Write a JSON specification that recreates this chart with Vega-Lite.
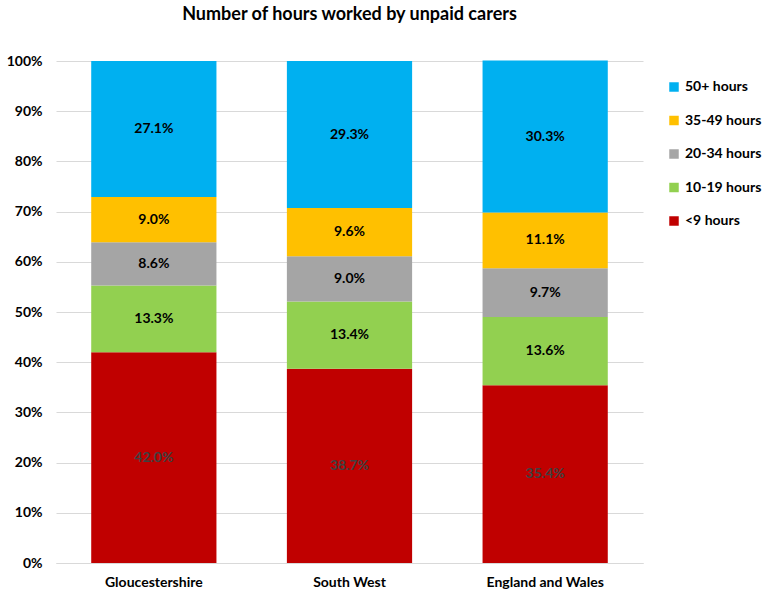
{
  "$schema": "https://vega.github.io/schema/vega-lite/v6.json",
  "width": 587,
  "height": 502,
  "autosize": {"type": "none"},
  "padding": {"left": 56, "top": 61, "right": 119, "bottom": 31},
  "background": "white",
  "title": {"text": "Number of hours worked by unpaid carers", "anchor": "middle", "fontSize": 18, "font": "Lato", "fontWeight": "bold", "color": "#000000", "offset": 30},
  "config": {"view": {"stroke": null}, "font": "Lato"},
  "data": {"values": [
    {"area": "Gloucestershire", "hours": "<9 hours", "ord": 1, "pct": 42.0},
    {"area": "Gloucestershire", "hours": "10-19 hours", "ord": 2, "pct": 13.3},
    {"area": "Gloucestershire", "hours": "20-34 hours", "ord": 3, "pct": 8.6},
    {"area": "Gloucestershire", "hours": "35-49 hours", "ord": 4, "pct": 9.0},
    {"area": "Gloucestershire", "hours": "50+ hours", "ord": 5, "pct": 27.1},
    {"area": "South West", "hours": "<9 hours", "ord": 1, "pct": 38.7},
    {"area": "South West", "hours": "10-19 hours", "ord": 2, "pct": 13.4},
    {"area": "South West", "hours": "20-34 hours", "ord": 3, "pct": 9.0},
    {"area": "South West", "hours": "35-49 hours", "ord": 4, "pct": 9.6},
    {"area": "South West", "hours": "50+ hours", "ord": 5, "pct": 29.3},
    {"area": "England and Wales", "hours": "<9 hours", "ord": 1, "pct": 35.4},
    {"area": "England and Wales", "hours": "10-19 hours", "ord": 2, "pct": 13.6},
    {"area": "England and Wales", "hours": "20-34 hours", "ord": 3, "pct": 9.7},
    {"area": "England and Wales", "hours": "35-49 hours", "ord": 4, "pct": 11.1},
    {"area": "England and Wales", "hours": "50+ hours", "ord": 5, "pct": 30.3}
  ]},
  "transform": [
    {"stack": "pct", "groupby": ["area"], "sort": [{"field": "ord", "order": "ascending"}], "as": ["y0", "y1"]},
    {"calculate": "(datum.y0 + datum.y1) / 2", "as": "ymid"},
    {"calculate": "format(datum.pct, '.1f') + '%'", "as": "lbl"}
  ],
  "encoding": {
    "x": {"field": "area", "type": "nominal", "sort": ["Gloucestershire", "South West", "England and Wales"],
      "scale": {"paddingInner": 0.36, "paddingOuter": 0.18},
      "axis": {"title": null, "labelAngle": 0, "labelFontSize": 14, "labelFontWeight": "bold", "labelColor": "#000000", "labelPadding": 12, "ticks": false, "domainColor": "#D9D9D9", "domainWidth": 1}}
  },
  "layer": [
    {
      "mark": {"type": "bar"},
      "encoding": {
        "y": {"field": "y0", "type": "quantitative", "scale": {"domain": [0, 100], "nice": false},
          "axis": {"title": null, "values": [0, 10, 20, 30, 40, 50, 60, 70, 80, 90, 100], "labelExpr": "datum.value + '%'", "labelFontSize": 14, "labelColor": "#000000", "labelFontWeight": "bold", "labelPadding": 14, "ticks": false, "domain": false, "gridColor": "#D9D9D9", "gridWidth": 1}},
        "y2": {"field": "y1"},
        "color": {"field": "hours", "type": "nominal",
          "scale": {"domain": ["50+ hours", "35-49 hours", "20-34 hours", "10-19 hours", "<9 hours"], "range": ["#00B0F0", "#FFC000", "#A5A5A5", "#92D050", "#C00000"]},
          "legend": {"title": null, "orient": "none", "legendX": 611, "legendY": 19, "symbolType": "square", "symbolSize": 90, "symbolStrokeWidth": 0, "labelFontSize": 14, "labelFontWeight": "bold", "labelColor": "#000000", "rowPadding": 19.5, "labelOffset": 4}}
      }
    },
    {
      "mark": {"type": "text", "fontSize": 14, "fontWeight": "bold", "baseline": "middle"},
      "encoding": {
        "y": {"field": "ymid", "type": "quantitative"},
        "text": {"field": "lbl", "type": "nominal"},
        "color": {"condition": {"test": "datum.hours === '<9 hours'", "value": "#404040"}, "value": "#000000"}
      }
    }
  ]
}
